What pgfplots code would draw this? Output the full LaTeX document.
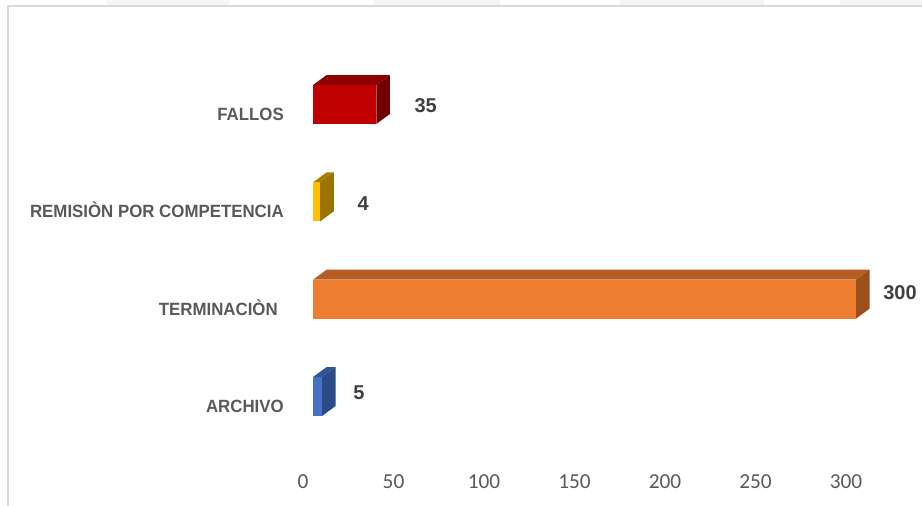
\documentclass[border=0pt]{standalone}
\usepackage{fontspec}
\setmainfont{Liberation Sans}
\newfontfamily\catfont{Liberation Sans}[FakeStretch=0.95]
\newfontfamily\tickfont{Carlito}
\usepackage{pgfplots}
\pgfplotsset{compat=1.18}
\definecolor{txtgray}{HTML}{595959}
\definecolor{valgray}{HTML}{404040}
\definecolor{bordergray}{HTML}{D9D9D9}
\definecolor{redF}{HTML}{C00000}
\definecolor{redT}{HTML}{8E0000}
\definecolor{redS}{HTML}{730000}
\definecolor{oraF}{HTML}{ED7D31}
\definecolor{oraT}{HTML}{B55D22}
\definecolor{oraS}{HTML}{9C4E1B}
\definecolor{golF}{HTML}{FFC000}
\definecolor{golT}{HTML}{A87E00}
\definecolor{golS}{HTML}{9A7300}
\definecolor{bluF}{HTML}{4472C4}
\definecolor{bluT}{HTML}{2F5597}
\definecolor{bluS}{HTML}{2A4B86}
\begin{document}
\begin{tikzpicture}
\useasboundingbox (0,0) rectangle (691.5pt,379.5pt);
% faint top band and frame
\fill[color=white!96!black] (80pt,375pt) rectangle (172pt,379.5pt);
\fill[color=white!96!black] (280pt,375pt) rectangle (375pt,379.5pt);
\fill[color=white!96!black] (465pt,375pt) rectangle (573pt,379.5pt);
\fill[color=white!96!black] (630pt,375pt) rectangle (691.5pt,379.5pt);
\draw[color=bordergray, line width=1.5pt] (6pt,0pt) -- (6pt,375pt) -- (691.5pt,375pt);
\begin{axis}[
  at={(234.75pt,23.7pt)}, anchor=south west,
  scale only axis, width=434.4pt, height=335.8pt,
  xmin=0, xmax=320, ymin=-0.8, ymax=3.8,
  clip=false,
  axis line style={draw=none},
  tick style={draw=none},
  major tick length=0pt,
  xtick={0,50,100,150,200,250,300},
  ytick={0,1,2,3},
  yticklabels={ARCHIVO, {TERMINACIÒN\kern4.5pt\relax}, REMISIÒN POR COMPETENCIA, FALLOS},
  /pgf/number format/assume math mode=true,
  xticklabel style={font=\tickfont\fontsize{16pt}{18pt}\selectfont, text=txtgray,
     anchor=base, inner sep=0pt, xshift=-7.5pt, yshift=-10.4pt},
  yticklabel style={font=\catfont\bfseries\fontsize{13.3pt}{15pt}\selectfont, text=txtgray,
     anchor=base east, inner sep=0pt, xshift=-21.75pt, yshift=-12pt},
]
% ---- ARCHIVO (5) ----
\addplot[fill=bluT, draw=none] coordinates {(0,0.2) (5,0.2) (12.5,0.303) (7.5,0.303)};
\addplot[fill=bluS, draw=none] coordinates {(5,-0.2) (12.5,-0.097) (12.5,0.303) (5,0.2)};
\addplot[xbar, bar shift=0pt, bar width=0.4, fill=bluF, draw=none,
  nodes near coords,
  every node near coord/.append style={font=\bfseries\fontsize{15pt}{17pt}\selectfont, text=valgray,
     anchor=west, inner sep=0pt, xshift=23.25pt, yshift=3pt}]
  coordinates {(5,0)};
% ---- TERMINACION (300) ----
\addplot[fill=oraT, draw=none] coordinates {(0,1.2) (300,1.2) (307.5,1.303) (7.5,1.303)};
\addplot[fill=oraS, draw=none] coordinates {(300,0.8) (307.5,0.903) (307.5,1.303) (300,1.2)};
\addplot[xbar, bar shift=0pt, bar width=0.4, fill=oraF, draw=none,
  nodes near coords,
  every node near coord/.append style={font=\bfseries\fontsize{15pt}{17pt}\selectfont, text=valgray,
     anchor=west, inner sep=0pt, xshift=20.25pt, yshift=4.9pt}]
  coordinates {(300,1)};
% ---- REMISION POR COMPETENCIA (4) ----
\addplot[fill=golT, draw=none] coordinates {(0,2.2) (4,2.2) (11.5,2.303) (7.5,2.303)};
\addplot[fill=golS, draw=none] coordinates {(4,1.8) (11.5,1.903) (11.5,2.303) (4,2.2)};
\addplot[xbar, bar shift=0pt, bar width=0.4, fill=golF, draw=none,
  nodes near coords,
  every node near coord/.append style={font=\bfseries\fontsize{15pt}{17pt}\selectfont, text=valgray,
     anchor=west, inner sep=0pt, xshift=27.75pt, yshift=-1.1pt}]
  coordinates {(4,2)};
% ---- FALLOS (35) ----
\addplot[fill=redT, draw=none] coordinates {(0,3.2) (35,3.2) (42.5,3.303) (7.5,3.303)};
\addplot[fill=redS, draw=none] coordinates {(35,2.8) (42.5,2.903) (42.5,3.303) (35,3.2)};
\addplot[xbar, bar shift=0pt, bar width=0.4, fill=redF, draw=none,
  nodes near coords,
  every node near coord/.append style={font=\bfseries\fontsize{15pt}{17pt}\selectfont, text=valgray,
     anchor=west, inner sep=0pt, xshift=28.5pt, yshift=-0.8pt}]
  coordinates {(35,3)};
\end{axis}
\end{tikzpicture}
\end{document}
